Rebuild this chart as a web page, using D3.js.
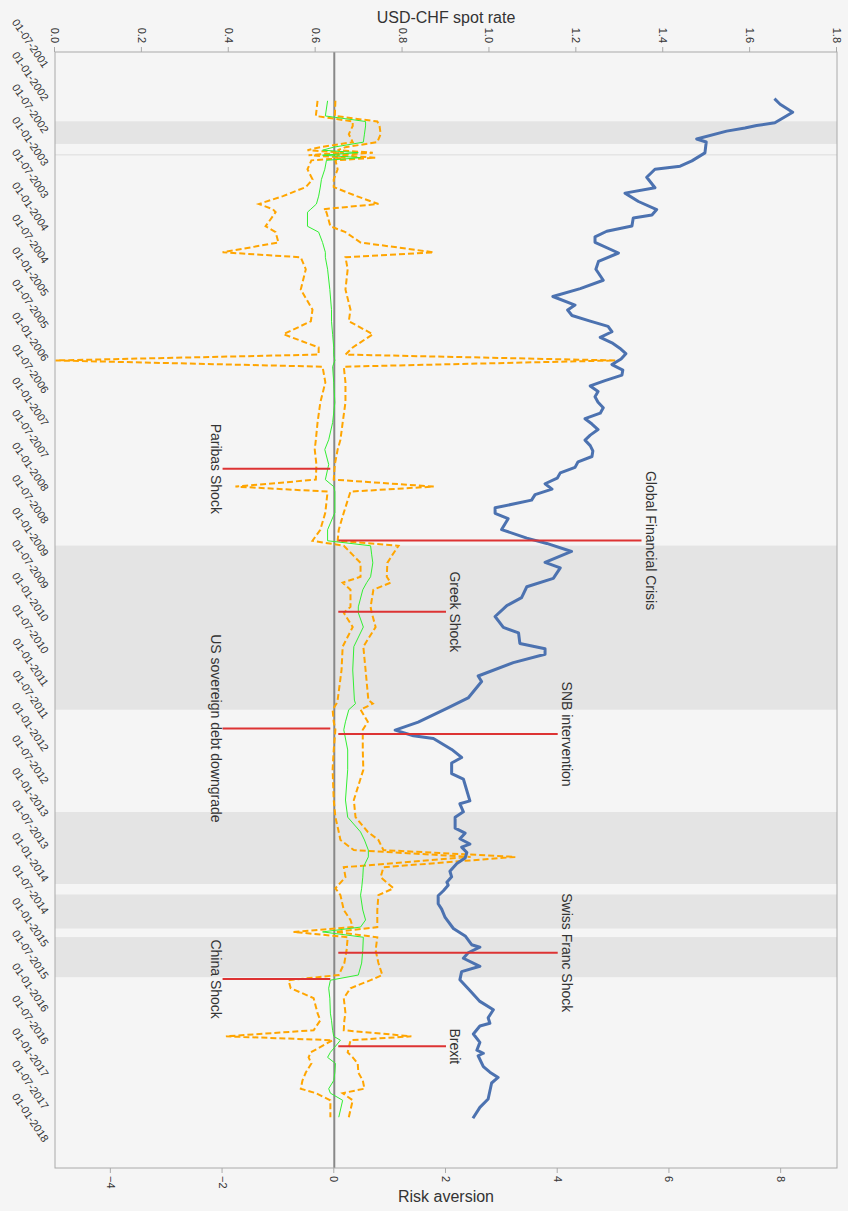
<!DOCTYPE html>
<html>
<head>
<meta charset="utf-8">
<script src="https://cdn.jsdelivr.net/npm/d3@7"></script>
<style>
  body { margin: 0; background: #f5f5f5; }
  svg { display: block; font-family: "Liberation Sans", Arial, sans-serif; }
</style>
</head>
<body>
<div id="chart"></div>
<script>
// USD-CHF spot rate (blue line)
var rateDates = ["2001-12-01","2002-01-01","2002-02-15","2002-04-15","2002-05-01","2002-05-15","2002-06-01","2002-07-15","2002-08-01","2002-10-01",
  "2002-11-15","2002-12-15","2003-01-01","2003-02-15","2003-04-15","2003-05-15","2003-07-01","2003-08-15","2003-09-15","2003-10-01",
  "2003-11-15","2003-12-15","2004-01-15","2004-02-15","2004-04-15","2004-06-01","2004-07-15","2004-09-15","2004-11-01","2004-12-15",
  "2005-02-01","2005-03-01","2005-04-01","2005-05-01","2005-06-01","2005-07-01","2005-08-01","2005-09-01","2005-10-01","2005-11-01",
  "2005-12-01","2006-01-01","2006-02-01","2006-03-01","2006-04-01","2006-05-01","2006-06-01","2006-07-01","2006-08-01","2006-09-01",
  "2006-10-01","2006-11-01","2006-12-01","2007-01-01","2007-02-01","2007-03-01","2007-04-01","2007-05-01","2007-06-01","2007-07-01",
  "2007-08-01","2007-09-01","2007-10-01","2007-11-01","2007-12-01","2008-01-01","2008-02-01","2008-03-15","2008-04-15","2008-05-15",
  "2008-07-15","2008-09-01","2008-10-01","2008-11-15","2009-01-15","2009-02-15","2009-04-15","2009-06-01","2009-08-01","2009-09-15",
  "2009-11-15","2010-01-15","2010-02-15","2010-04-15","2010-05-15","2010-06-15","2010-08-01","2010-10-15","2010-11-15","2011-02-15",
  "2011-04-15","2011-07-01","2011-08-15","2011-09-15","2011-10-01","2011-12-01","2012-01-15","2012-02-15","2012-04-15","2012-05-15",
  "2012-09-15","2012-10-01","2012-11-15","2012-12-15","2013-02-15","2013-03-15","2013-04-15","2013-05-15","2013-06-01","2013-07-01",
  "2013-08-01","2013-09-01","2013-10-15","2013-11-15","2013-12-15","2014-01-01","2014-02-01","2014-03-01","2014-04-15","2014-05-15",
  "2014-07-01","2014-09-01","2014-10-15","2014-12-01","2014-12-15","2015-01-15","2015-02-15","2015-04-01","2015-05-01","2015-06-15",
  "2015-08-15","2015-10-15","2015-12-01","2016-01-15","2016-02-15","2016-03-01","2016-04-15","2016-06-01","2016-07-15","2016-08-01",
  "2016-08-15","2016-10-15","2016-11-15","2016-12-15","2017-01-15","2017-04-15","2017-06-01","2017-08-01"];
var rateValues = [1.656,1.669,1.698,1.657,1.615,1.588,1.546,1.477,1.499,1.496,
  1.466,1.439,1.381,1.362,1.381,1.312,1.343,1.385,1.374,1.331,
  1.328,1.270,1.243,1.243,1.297,1.251,1.245,1.262,1.209,1.146,
  1.197,1.180,1.190,1.230,1.273,1.282,1.255,1.282,1.300,1.314,
  1.303,1.282,1.307,1.305,1.266,1.232,1.250,1.243,1.250,1.262,
  1.255,1.220,1.236,1.250,1.232,1.220,1.232,1.238,1.236,1.204,
  1.197,1.163,1.156,1.128,1.144,1.105,1.097,1.013,1.013,1.043,
  1.028,1.086,1.132,1.189,1.128,1.163,1.147,1.086,1.074,1.040,
  1.013,1.032,1.067,1.070,1.128,1.128,1.055,0.974,0.982,0.951,
  0.902,0.836,0.783,0.825,0.871,0.913,0.936,0.913,0.913,0.940,
  0.955,0.932,0.940,0.921,0.921,0.944,0.932,0.955,0.936,0.948,
  0.944,0.925,0.909,0.913,0.902,0.905,0.894,0.882,0.882,0.890,
  0.898,0.917,0.945,0.959,0.978,0.951,0.940,0.978,0.936,0.932,
  0.955,0.978,1.009,0.997,1.001,0.978,0.963,0.978,0.971,0.986,
  0.974,0.986,1.001,1.020,1.005,0.997,0.978,0.962];

// Risk aversion estimate (green) with lower / upper bounds (orange dashed)
var riskDates = ["2001-12-13","2002-03-08","2002-04-08","2002-05-03","2002-06-18","2002-08-02","2002-08-30","2002-09-16","2002-09-30","2002-10-14",
  "2002-10-28","2002-11-12","2003-01-01","2003-02-27","2003-04-11","2003-06-01","2003-07-15","2003-08-13","2003-08-30","2003-11-17",
  "2003-12-20","2004-02-16","2004-04-11","2004-05-09","2004-07-15","2004-11-06","2005-02-27","2005-05-03","2005-07-15","2005-09-27",
  "2005-11-06","2005-12-09","2006-01-13","2006-04-11","2006-08-02","2006-11-23","2007-02-27","2007-04-23","2007-07-16","2007-10-09",
  "2007-11-17","2007-12-15","2008-04-11","2008-07-16","2008-09-16","2008-10-14","2008-12-04","2009-01-18","2009-04-06","2009-05-09",
  "2009-06-18","2009-09-22","2009-10-25","2010-01-13","2010-05-03","2010-09-11","2011-02-27","2011-03-19","2011-04-22","2011-06-29",
  "2011-08-13","2011-12-04","2012-03-24","2012-09-10","2012-12-15","2013-03-08","2013-04-22","2013-06-18","2013-07-26","2013-09-22",
  "2013-11-17","2014-01-18","2014-02-26","2014-05-20","2014-07-15","2014-08-24","2014-09-20","2014-10-20","2015-01-01","2015-03-14",
  "2015-05-20","2015-06-18","2015-08-02","2015-09-27","2015-12-20","2016-01-29","2016-03-25","2016-04-28","2016-05-20","2016-07-27",
  "2016-08-24","2016-09-27","2016-11-17","2017-01-01","2017-02-16","2017-03-13","2017-04-22","2017-07-26"];
var riskMid = [-0.12,-0.16,0.56,0.56,0.54,0.52,-0.01,-0.21,0.43,-0.21,
  0.47,-0.14,-0.17,-0.23,-0.25,-0.28,-0.32,-0.42,-0.48,-0.48,
  -0.28,-0.21,-0.16,-0.16,-0.12,-0.08,-0.05,-0.05,-0.03,-0.01,
  -0.01,0.01,-0.03,-0.01,0.01,-0.03,-0.10,-0.17,-0.10,-0.16,
  -0.01,0.01,0.01,-0.12,-0.12,0.65,0.67,0.69,0.65,0.58,
  0.51,0.43,0.43,0.52,0.35,0.33,0.36,0.38,0.26,0.20,
  0.17,0.24,0.24,0.20,0.24,0.47,0.54,0.61,0.61,0.52,
  0.51,0.49,0.47,0.51,0.56,0.47,-0.21,0.52,0.51,0.49,
  0.43,-0.07,-0.10,-0.08,-0.07,-0.05,-0.03,-0.01,0.11,-0.07,
  -0.12,0.02,0.01,-0.01,-0.10,-0.07,0.15,0.08];
var riskLow = [-0.30,-0.33,0.33,0.33,0.26,0.33,-0.25,-0.48,0.17,-0.46,
  0.20,-0.41,-0.48,-0.39,-0.51,-0.92,-1.35,-1.10,-1.05,-1.23,
  -1.05,-1.00,-2.00,-0.60,-0.51,-0.60,-0.39,-0.42,-0.91,-0.28,
  -0.28,-4.99,-0.21,-0.16,-0.25,-0.30,-0.33,-0.35,-0.32,-0.33,
  -1.77,-0.12,-0.16,-0.25,-0.39,0.17,0.33,0.47,0.47,0.15,
  0.29,0.29,0.17,0.33,0.15,0.13,0.06,0.04,-0.03,-0.01,
  0.02,-0.01,-0.03,-0.01,0.02,0.08,0.11,0.35,2.44,0.17,
  0.20,0.02,0.11,0.17,0.29,0.33,-0.73,0.24,0.22,0.18,
  0.08,-0.82,-0.78,-0.37,-0.30,-0.25,-0.37,-1.94,-0.03,-0.42,
  -0.46,-0.41,-0.51,-0.57,-0.60,-0.33,-0.07,-0.07];
var riskHigh = [0.02,0.01,0.77,0.81,0.83,0.77,0.20,0.06,0.69,0.04,
  0.74,0.02,0.06,-0.01,-0.01,0.40,0.79,-0.19,-0.14,-0.07,
  0.20,0.47,1.78,0.20,0.24,0.20,0.29,0.26,0.69,0.33,
  0.20,5.03,0.17,0.20,0.20,0.15,0.11,0.06,0.01,-0.01,
  1.78,0.29,0.17,0.08,0.06,1.15,1.04,0.95,0.94,1.01,
  0.70,0.65,0.67,0.74,0.52,0.56,0.61,0.69,0.47,0.60,
  0.51,0.51,0.52,0.35,0.38,0.60,0.79,0.88,3.24,0.88,
  0.83,1.06,0.79,0.77,0.77,0.77,0.02,0.77,0.74,0.79,
  0.86,0.65,0.29,0.17,0.20,0.18,0.17,1.38,0.29,0.24,
  0.33,0.42,0.43,0.51,0.54,0.15,0.33,0.26];

// shaded periods
var bandStarts = ["2002-04-07","2002-10-08","2008-10-13","2012-11-16","2014-02-22","2014-10-19"];
var bandEnds   = ["2002-08-12","2002-10-16","2011-04-22","2013-12-25","2014-09-01","2015-06-01"];

// annotated events: date and the risk-aversion level where the label sits
var eventNames = ["Paribas Shock","Global Financial Crisis","Greek Shock","US sovereign debt downgrade",
  "SNB intervention","Swiss Franc Shock","China Shock","Brexit"];
var eventDates = ["2007-08-09","2008-09-15","2009-10-20","2011-08-05","2011-09-06","2015-01-15","2015-06-12","2016-06-23"];
var eventLabelAt = [-2, 5.5, 2, -2, 4, 4, -2, 2];

var rateTicks = [0, 0.2, 0.4, 0.6, 0.8, 1.0, 1.2, 1.4, 1.6, 1.8];
var riskTicks = [-4, -2, 0, 2, 4, 6, 8];
var dateTicks = ["2001-07-01","2002-01-01","2002-07-01","2003-01-01","2003-07-01","2004-01-01","2004-07-01","2005-01-01",
  "2005-07-01","2006-01-01","2006-07-01","2007-01-01","2007-07-01","2008-01-01","2008-07-01","2009-01-01","2009-07-01",
  "2010-01-01","2010-07-01","2011-01-01","2011-07-01","2012-01-01","2012-07-01","2013-01-01","2013-07-01","2014-01-01",
  "2014-07-01","2015-01-01","2015-07-01","2016-01-01","2016-07-01","2017-01-01","2017-07-01","2018-01-01"];
var dateDomain = ["2001-03-14", "2018-05-07"];

// the chart is laid out un-rotated (W wide, H tall) and then turned 90deg clockwise
var W = 1211, H = 848;
var x0 = 52, x1 = 1168, yTop = 11, yBot = 793;
var parse = d3.timeParse("%Y-%m-%d");

var svg = d3.select("#chart").append("svg")
    .attr("width", H)
    .attr("height", W);

svg.append("rect").attr("width", H).attr("height", W).attr("fill", "#f5f5f5");

var g = svg.append("g").attr("transform", "translate(" + H + ",0) rotate(90)");

var x = d3.scaleTime().domain(dateDomain.map(parse)).range([x0, x1]);
var yRate = d3.scaleLinear().domain([0, 1.8]).range([yBot, yTop]);
var yRisk = d3.scaleLinear().domain([-5, 9]).range([yBot, yTop]);

// shaded bands
g.selectAll("rect.band")
    .data(d3.range(bandStarts.length))
    .enter()
    .append("rect")
    .attr("class", "band")
    .attr("x", function(i){ return x(parse(bandStarts[i])); })
    .attr("width", function(i){ return Math.max(1, x(parse(bandEnds[i])) - x(parse(bandStarts[i]))); })
    .attr("y", yTop)
    .attr("height", yBot - yTop)
    .attr("fill", "#e4e4e4");

// zero line of risk aversion
g.append("line")
    .attr("x1", x0).attr("x2", x1)
    .attr("y1", yRisk(0)).attr("y2", yRisk(0))
    .attr("stroke", "#888").attr("stroke-width", 2);

// plot frame
g.append("rect")
    .attr("x", x0).attr("y", yTop)
    .attr("width", x1 - x0).attr("height", yBot - yTop)
    .attr("fill", "none").attr("stroke", "#aaa");

var riskData = riskDates.map(function(d, i){
  return {date: parse(d), mid: riskMid[i], low: riskLow[i], high: riskHigh[i]};
});

function riskLine(key){
  return d3.line()
      .x(function(d){ return x(d.date); })
      .y(function(d){ return yRisk(d[key]); });
}

var clip = g.append("clipPath").attr("id", "plotclip")
    .append("rect").attr("x", x0).attr("y", yTop).attr("width", x1 - x0).attr("height", yBot - yTop);

var plot = g.append("g").attr("clip-path", "url(#plotclip)");

["low", "high"].forEach(function(k){
  plot.append("path")
      .datum(riskData)
      .attr("d", riskLine(k))
      .attr("fill", "none")
      .attr("stroke", "#ffa500")
      .attr("stroke-width", 2)
      .attr("stroke-dasharray", "6,3");
});

plot.append("path")
    .datum(riskData)
    .attr("d", riskLine("mid"))
    .attr("fill", "none")
    .attr("stroke", "#33ee33")
    .attr("stroke-width", 1);

var rateData = rateDates.map(function(d, i){ return {date: parse(d), v: rateValues[i]}; });

plot.append("path")
    .datum(rateData)
    .attr("d", d3.line()
        .x(function(d){ return x(d.date); })
        .y(function(d){ return yRate(d.v); }))
    .attr("fill", "none")
    .attr("stroke", "#4c72b0")
    .attr("stroke-width", 3)
    .attr("stroke-linejoin", "round");

// event markers
var ev = g.selectAll("g.event")
    .data(d3.range(eventNames.length))
    .enter()
    .append("g")
    .attr("class", "event");

ev.append("line")
    .attr("x1", function(i){ return x(parse(eventDates[i])); })
    .attr("x2", function(i){ return x(parse(eventDates[i])); })
    .attr("y1", function(i){ return yRisk(0) + (eventLabelAt[i] > 0 ? -4 : 4); })
    .attr("y2", function(i){ return yRisk(eventLabelAt[i]); })
    .attr("stroke", "#dd3333")
    .attr("stroke-width", 2);

ev.append("text")
    .attr("x", function(i){ return x(parse(eventDates[i])); })
    .attr("y", function(i){ return eventLabelAt[i] > 0 ? yRisk(eventLabelAt[i]) - 4 : yRisk(eventLabelAt[i]) + 12; })
    .attr("text-anchor", "middle")
    .attr("font-size", "14px")
    .attr("fill", "#333")
    .text(function(i){ return eventNames[i]; });

// axes
var rateAxis = g.append("g")
    .attr("transform", "translate(" + x0 + ",0)")
    .call(d3.axisLeft(yRate).tickValues(rateTicks).tickFormat(d3.format(".1f")).tickSize(5).tickPadding(4));

var riskAxis = g.append("g")
    .attr("transform", "translate(" + x1 + ",0)")
    .call(d3.axisRight(yRisk).tickValues(riskTicks).tickFormat(d3.format("d")).tickSize(5).tickPadding(3));

var dateAxis = g.append("g")
    .attr("transform", "translate(0," + yBot + ")")
    .call(d3.axisBottom(x).tickValues(dateTicks.map(parse)).tickFormat(d3.timeFormat("%d-%m-%Y")).tickSize(0));

dateAxis.selectAll("text")
    .attr("text-anchor", "end")
    .attr("dy", null)
    .attr("y", null)
    .attr("transform", "translate(-3,12) rotate(-34)");

[rateAxis, riskAxis, dateAxis].forEach(function(a){
  a.select(".domain").remove();
  a.selectAll("line").attr("stroke", "#aaa");
  a.selectAll("text").attr("fill", "#333").attr("font-size", "11px")
      .attr("font-family", "'Liberation Sans', Arial, sans-serif");
});

// axis titles
g.append("text")
    .attr("transform", "translate(23," + ((yTop + yBot) / 2) + ") rotate(-90)")
    .attr("text-anchor", "middle")
    .attr("font-size", "16px")
    .attr("fill", "#333")
    .text("USD-CHF spot rate");

g.append("text")
    .attr("transform", "translate(1202," + ((yTop + yBot) / 2) + ") rotate(-90)")
    .attr("text-anchor", "middle")
    .attr("font-size", "16px")
    .attr("fill", "#333")
    .text("Risk aversion");
</script>
</body>
</html>
